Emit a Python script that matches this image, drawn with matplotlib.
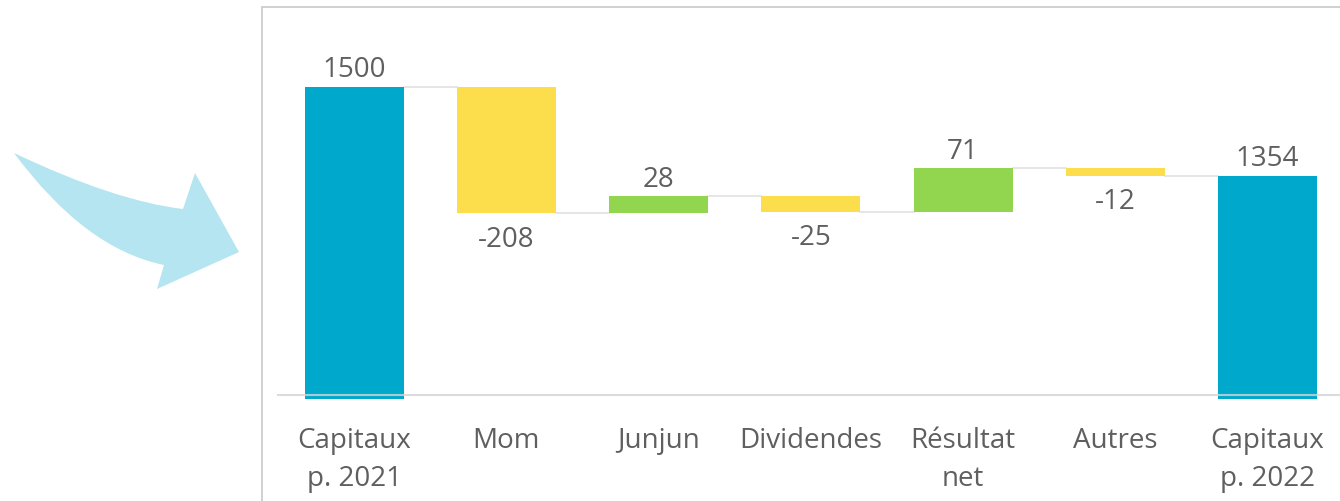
import numpy as np
import matplotlib.pyplot as plt
from matplotlib.patches import PathPatch, Rectangle
from matplotlib.path import Path

plt.rcParams['font.family'] = ['Open Sans', 'DejaVu Sans']

# Données
categories = ['Capitaux\np. 2021', 'Mom', 'Junjun', 'Dividendes', 'Résultat\nnet', 'Autres', 'Capitaux\np. 2022']
valeurs = [1500, -208, 28, -25, 71, -12, 1354]
est_total = [True, False, False, False, False, False, True]

bleu = '#00A8CC'
jaune = '#FCDE4C'
vert = '#92D650'
gris_texte = '#5f5f5f'

fig = plt.figure(figsize=(13.4, 5.02), dpi=100)

# cadre du graphique
fig.patches.append(Rectangle((262 / 1340, -0.1), 1.0, 1 - 8 / 502 + 0.1,
                             transform=fig.transFigure, fill=False,
                             edgecolor='#c8c8c8', lw=1.2))

# flèche à gauche (coordonnées en pixels)
pts = [(14, 154), (115, 202), (183, 210), (195, 174), (239, 253), (157, 290),
       (164, 266), (85, 250), (14, 154), (14, 154)]
codes = [Path.MOVETO, Path.CURVE3, Path.CURVE3, Path.LINETO, Path.LINETO, Path.LINETO,
         Path.LINETO, Path.CURVE3, Path.CURVE3, Path.CLOSEPOLY]
pts = [(x / 1340, 1 - y / 502) for x, y in pts]
fig.patches.append(PathPatch(Path(pts, codes), transform=fig.transFigure,
                             facecolor='#B5E5F0', edgecolor='none'))

ax = fig.add_axes([278 / 1340, 1 - 395.5 / 502, (1343.6 - 278) / 1340, (395.5 - 9.5) / 502])
ymin, ymax = 994.4, 1629
ax.set_ylim(ymin, ymax)
ax.set_xlim(-0.5, len(categories) - 0.5)

x = np.arange(len(categories))
largeur = 0.65
cumul = 0
niveaux = []
for i, (v, tot) in enumerate(zip(valeurs, est_total)):
    if tot:
        bas = ymin - 8
        ax.bar(x[i], v - bas, bottom=bas, width=largeur, color=bleu, clip_on=False, zorder=2)
        ax.text(x[i], v + 6, f'{v}', ha='center', va='bottom', fontsize=20, color=gris_texte)
        cumul = v
    else:
        couleur = vert if v > 0 else jaune
        ax.bar(x[i], v, bottom=cumul, width=largeur, color=couleur, zorder=2)
        fin = cumul + v
        if v > 0:
            ax.text(x[i], fin + 6, f'{v}', ha='center', va='bottom', fontsize=20, color=gris_texte)
        else:
            ax.text(x[i], fin - 19, f'{v}', ha='center', va='top', fontsize=20, color=gris_texte)
        cumul = fin
    niveaux.append(cumul)

# connecteurs
for i in range(len(categories) - 1):
    ax.plot([x[i] + largeur / 2, x[i + 1] - largeur / 2], [niveaux[i], niveaux[i]],
            color='#e6e6e6', lw=1.4, zorder=1)

ax.axhline(ymin, color='#d4d4d4', lw=1.5, alpha=0.8, zorder=3, clip_on=False)

for s in ax.spines.values():
    s.set_visible(False)
ax.set_yticks([])
ax.set_xticks(x)
ax.set_xticklabels(categories, fontsize=20, color=gris_texte, linespacing=1.45)
ax.tick_params(axis='x', length=0, pad=23)
ax.patch.set_alpha(0)

fig.savefig('out.png', dpi=100)
